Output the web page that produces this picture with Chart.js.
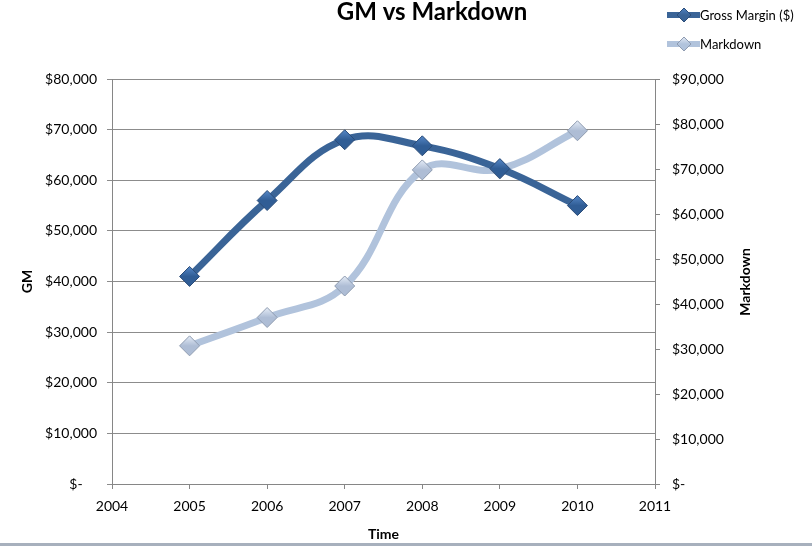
<!DOCTYPE html>
<html>
<head>
<meta charset="utf-8">
<script src="https://cdn.jsdelivr.net/npm/chart.js@4/dist/chart.umd.min.js"></script>
<style>
  html, body { margin: 0; padding: 0; background: #fff; }
  #wrap { width: 812px; height: 546px; }
</style>
</head>
<body>
<div id="wrap"><canvas id="chart_root"></canvas></div>
<script>
// data
const years = [2005, 2006, 2007, 2008, 2009, 2010];
const grossMargin = [41000, 56000, 68000, 66800, 62300, 55000];
const markdown = [30700, 37000, 44000, 69800, 70000, 78500];
const seriesNames = ['Gross Margin ($)', 'Markdown'];

const gmColor = '#3a6497';
const mdColor = '#b1c3dc';
const font = 'Lato, "Open Sans", sans-serif';

// accounting style labels, zero shows as a dash
const money = (v) => (v === 0 ? '$-    ' : '$' + v.toLocaleString('en-US'));

// shaded diamond fill, placed with the library's own scales
const shade = (top, bottom, axis) => (c) => {
  if (c.type !== 'data') return bottom;
  const py = c.chart.scales[axis].getPixelForValue(c.parsed.y);
  if (!isFinite(py)) return bottom;
  const g = c.chart.ctx.createLinearGradient(0, py - 10, 0, py + 10);
  g.addColorStop(0, top);
  g.addColorStop(0.5, bottom);
  g.addColorStop(1, bottom);
  return g;
};

// title, legend, right axis title drawn by hand
const decor = {
  id: 'decor',
  afterDraw(chart) {
    const c = chart.ctx;
    c.save();
    c.fillStyle = '#000';
    c.textAlign = 'center';
    c.textBaseline = 'middle';
    c.font = 'bold 24px ' + font;
    c.fillText('GM vs Markdown', 432, 12);

    // legend
    const rows = [[seriesNames[0], gmColor, '#4f82c2', '#2b4c78', 15], [seriesNames[1], mdColor, '#e2e9f4', '#8e9bb0', 44]];
    rows.forEach(([label, col, light, edge, y]) => {
      c.strokeStyle = col;
      c.lineWidth = 6;
      c.beginPath();
      c.moveTo(667, y);
      c.lineTo(700, y);
      c.stroke();
      const g = c.createLinearGradient(0, y - 7, 0, y + 7);
      g.addColorStop(0, light);
      g.addColorStop(0.5, col);
      g.addColorStop(1, col);
      c.fillStyle = g;
      c.strokeStyle = edge;
      c.lineWidth = 1;
      c.beginPath();
      c.moveTo(684, y - 7);
      c.lineTo(691, y);
      c.lineTo(684, y + 7);
      c.lineTo(677, y);
      c.closePath();
      c.fill();
      c.stroke();
      c.fillStyle = '#000';
      c.textAlign = 'left';
      c.font = '13px ' + font;
      c.fillText(label, 700, y + 1);
    });

    // right axis title reads bottom to top
    c.translate(745, 282);
    c.rotate(-Math.PI / 2);
    c.textAlign = 'center';
    c.font = 'bold 14px ' + font;
    c.fillText('Markdown', 0, 0);
    c.restore();

    c.save();
    c.fillStyle = '#a7b0bd';
    c.fillRect(0, 543, 812, 3);
    c.restore();
  }
};

const ctx = document.getElementById('chart_root');

new Chart(ctx, {
  type: 'line',
  data: {
    datasets: [
      {
        label: seriesNames[0],
        data: years.map((y, i) => ({ x: y, y: grossMargin[i] })),
        yAxisID: 'yGM',
        borderColor: gmColor,
        backgroundColor: shade('#5688c8', '#305d95', 'yGM'),
        pointBorderColor: '#2b4c78',
        borderWidth: 7,
        tension: 0.4,
        pointStyle: 'rectRot',
        pointRadius: 10,
        pointBorderWidth: 1
      },
      {
        label: seriesNames[1],
        data: years.map((y, i) => ({ x: y, y: markdown[i] })),
        yAxisID: 'yMD',
        borderColor: mdColor,
        backgroundColor: shade('#e6edf7', '#aebdd5', 'yMD'),
        pointBorderColor: '#8e9bb0',
        borderWidth: 7,
        tension: 0.4,
        pointStyle: 'rectRot',
        pointRadius: 10,
        pointBorderWidth: 1
      }
    ]
  },
  options: {
    responsive: true,
    maintainAspectRatio: false,
    animation: false,
    layout: { padding: { top: 79, left: 0, right: 0, bottom: 0 } },
    plugins: {
      legend: { display: false },
      title: { display: false },
      tooltip: { enabled: false }
    },
    scales: {
      x: {
        type: 'linear',
        min: 2004,
        max: 2011,
        afterFit: (s) => { s.height = 62; },
        ticks: { stepSize: 1, color: '#000', font: { family: font, size: 14 }, padding: 9, callback: (v) => String(v) },
        grid: { drawOnChartArea: false, color: '#868686', tickLength: 5 },
        border: { color: '#868686' },
        title: { display: true, text: 'Time', color: '#000', font: { family: font, size: 14, weight: 'bold' }, padding: { top: 0, bottom: 3 } }
      },
      yGM: {
        position: 'left',
        min: 0,
        max: 80000,
        afterFit: (s) => { s.width = 112; },
        ticks: { stepSize: 10000, color: '#000', font: { family: font, size: 14 }, padding: 10, callback: money },
        grid: { color: '#8c8c8c', tickLength: 5 },
        border: { color: '#868686' },
        title: { display: true, text: 'GM', color: '#000', font: { family: font, size: 14, weight: 'bold' }, padding: { top: 19, bottom: 0 } }
      },
      yMD: {
        position: 'right',
        min: 0,
        max: 90000,
        afterFit: (s) => { s.width = 157; },
        ticks: { stepSize: 10000, color: '#000', font: { family: font, size: 14 }, padding: 12, callback: money },
        grid: { drawOnChartArea: false, color: '#868686', tickLength: 5 },
        border: { color: '#868686' }
      }
    }
  },
  plugins: [decor]
});
</script>
</body>
</html>
